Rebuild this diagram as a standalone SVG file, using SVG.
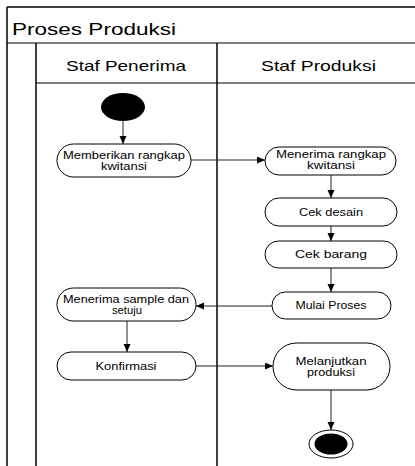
<svg xmlns="http://www.w3.org/2000/svg" width="415" height="466" viewBox="0 0 415 466">
<defs>
<marker id="arr" markerUnits="userSpaceOnUse" markerWidth="9" markerHeight="8" refX="8" refY="3.5" orient="auto">
<path d="M0,0 L8,3.5 L0,7 z" fill="#000"/>
</marker>
<style>
.frame{stroke:#000;stroke-width:1.5;fill:none}
.hline{stroke:#000;stroke-width:1;fill:none}
.node{fill:#fff;stroke:#000;stroke-width:1}
.t{font-family:"Liberation Sans",Arial,sans-serif;font-size:10px;fill:#000;text-anchor:middle}
.h{font-family:"Liberation Sans",Arial,sans-serif;font-size:14.5px;fill:#000;text-anchor:middle}
.title{font-family:"Liberation Sans",Arial,sans-serif;font-size:17px;fill:#000}
.c{stroke:#222;stroke-width:1;fill:none;marker-end:url(#arr)}
</style>
</defs>
<rect width="415" height="466" fill="#fff"/>
<g id="swimlanes">
<line class="frame" x1="7" y1="7" x2="415" y2="7"/>
<line class="frame" x1="7" y1="7" x2="7" y2="466"/>
<line class="hline" x1="7" y1="43" x2="415" y2="43"/>
<line class="frame" x1="36" y1="43" x2="36" y2="466"/>
<line class="hline" x1="36" y1="83" x2="415" y2="83"/>
<line class="frame" x1="217" y1="43" x2="217" y2="466"/>
<text class="title" x="12" y="35" textLength="164" lengthAdjust="spacingAndGlyphs">Proses Produksi</text>
<text class="h" x="126" y="70.5" textLength="120" lengthAdjust="spacingAndGlyphs">Staf Penerima</text>
<text class="h" x="318.5" y="70.5" textLength="115" lengthAdjust="spacingAndGlyphs">Staf Produksi</text>
</g>
<g id="connectors">
<line class="c" x1="123" y1="121" x2="123" y2="144"/>
<line class="c" x1="191" y1="160" x2="265" y2="160"/>
<line class="c" x1="331" y1="175" x2="331" y2="198"/>
<line class="c" x1="331" y1="226" x2="331" y2="241"/>
<line class="c" x1="331" y1="268" x2="331" y2="292"/>
<line class="c" x1="272" y1="306" x2="196" y2="306"/>
<line class="c" x1="127" y1="321" x2="127" y2="352"/>
<line class="c" x1="196" y1="366" x2="273" y2="366"/>
<line class="c" x1="331" y1="390" x2="331" y2="430"/>
</g>
<g id="start">
<ellipse cx="123" cy="107" rx="22" ry="14" fill="#000"/>
</g>
<g id="memberikan">
<rect class="node" x="57" y="144" width="134" height="33" rx="16.5"/>
<text class="t" x="124" y="159" textLength="122" lengthAdjust="spacingAndGlyphs">Memberikan rangkap</text>
<text class="t" x="124" y="170" textLength="46" lengthAdjust="spacingAndGlyphs">kwitansi</text>
</g>
<g id="menerima-rangkap">
<rect class="node" x="265" y="147" width="131" height="28" rx="14"/>
<text class="t" x="331" y="158" textLength="110" lengthAdjust="spacingAndGlyphs">Menerima rangkap</text>
<text class="t" x="331" y="169" textLength="48" lengthAdjust="spacingAndGlyphs">kwitansi</text>
</g>
<g id="cek-desain">
<rect class="node" x="265" y="198" width="132" height="28" rx="14"/>
<text class="t" x="331" y="215.5" textLength="64" lengthAdjust="spacingAndGlyphs">Cek desain</text>
</g>
<g id="cek-barang">
<rect class="node" x="265" y="241" width="132" height="27" rx="13.5"/>
<text class="t" x="331" y="258" textLength="72" lengthAdjust="spacingAndGlyphs">Cek barang</text>
</g>
<g id="mulai-proses">
<rect class="node" x="272" y="292" width="119" height="27" rx="13.5"/>
<text class="t" x="331" y="309" textLength="71" lengthAdjust="spacingAndGlyphs">Mulai Proses</text>
</g>
<g id="menerima-sample">
<rect class="node" x="57" y="288" width="139" height="33" rx="16.5"/>
<text class="t" x="126" y="303" textLength="126" lengthAdjust="spacingAndGlyphs">Menerima sample dan</text>
<text class="t" x="127" y="314" textLength="30" lengthAdjust="spacingAndGlyphs">setuju</text>
</g>
<g id="konfirmasi">
<rect class="node" x="57" y="352" width="139" height="28" rx="14"/>
<text class="t" x="126" y="369.5" textLength="61" lengthAdjust="spacingAndGlyphs">Konfirmasi</text>
</g>
<g id="melanjutkan">
<rect class="node" x="273" y="343" width="117" height="47" rx="23.5"/>
<text class="t" x="331" y="364.5" textLength="71" lengthAdjust="spacingAndGlyphs">Melanjutkan</text>
<text class="t" x="331" y="376" textLength="48" lengthAdjust="spacingAndGlyphs">produksi</text>
</g>
<g id="end">
<ellipse cx="331" cy="444" rx="22" ry="14" fill="#fff" stroke="#000" stroke-width="1"/>
<ellipse cx="331" cy="444" rx="16.5" ry="10.5" fill="#000"/>
</g>
</svg>
